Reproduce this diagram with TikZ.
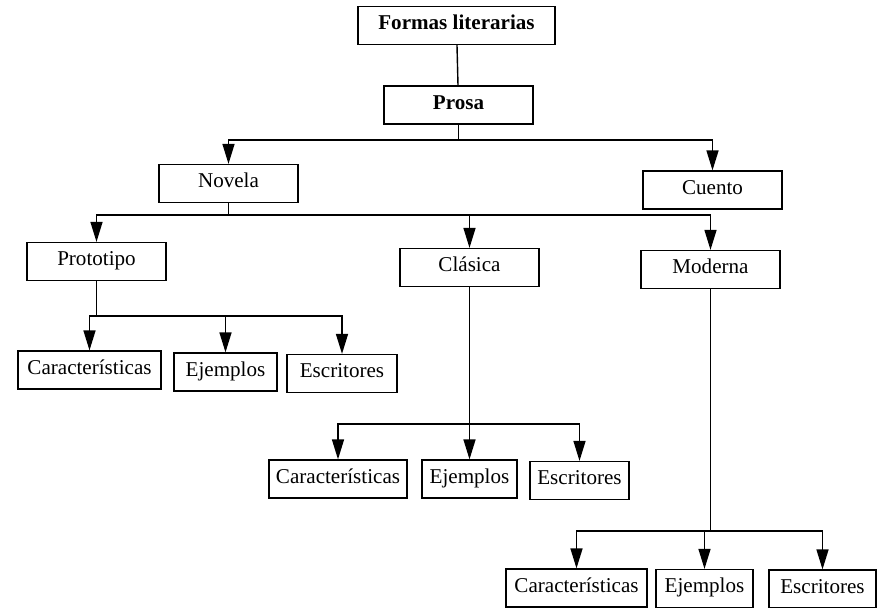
\documentclass[tikz,border=0pt]{standalone}
\usepackage{fontspec}
\setmainfont{Liberation Serif}
\usetikzlibrary{arrows.meta,positioning,calc}

\begin{document}
\begin{tikzpicture}[
  x=0.02cm, y=-0.02cm, font=\fontsize{12}{14}\selectfont,
  topbox/.style={draw, line width=0.7pt, minimum height=7.6mm, inner sep=2pt,
                 text height=1.6ex, text depth=.5ex,
                 font=\fontsize{12}{14}\selectfont\bfseries},
  catbox/.style={draw, line width=0.7pt, minimum height=7.6mm,
                 minimum width=27.8mm, inner sep=2pt,
                 text height=1.6ex, text depth=.5ex},
  leafbox/.style={draw, line width=0.7pt, minimum height=7.6mm, inner sep=2pt,
                  text height=1.6ex, text depth=.5ex},
  link/.style={line width=0.8pt},
  flow/.style={link, -{Triangle[length=4mm, width=2.4mm]}},
]
\useasboundingbox (0,0) rectangle (886,608);

% upper levels
\node[topbox, minimum width=39.4mm] (formas) at (456.5,25.5) {Formas literarias};
\node[topbox, minimum width=29.8mm] (prosa) at (458.5,105) {Prosa};
\node[catbox] (novela)    at (228.5,183.5) {Novela};
\node[catbox] (cuento)    at (712.5,190)   {Cuento};
\node[catbox] (prototipo) at (96.5,261.5)  {Prototipo};
\node[catbox] (clasica)   at (469.5,267.5) {Clásica};
\node[catbox] (moderna)   at (710.5,269.5) {Moderna};

% leaves
\node[leafbox, minimum width=28.6mm] (protocar) at (89.5,370)   {Características};
\node[leafbox, minimum width=20.6mm] (protoeje) at (225.5,372)  {Ejemplos};
\node[leafbox, minimum width=22mm]   (protoesc) at (342,373.5)  {Escritores};
\node[leafbox, minimum width=27.6mm] (clascar)  at (338,479)    {Características};
\node[leafbox, minimum width=19mm]   (claseje)  at (469.5,479)  {Ejemplos};
\node[leafbox, minimum width=19.8mm] (clasesc)  at (579.5,480.5){Escritores};
\node[leafbox, minimum width=28.2mm] (modcar)   at (576.5,588)  {Características};
\node[leafbox, minimum width=19.4mm] (modeje)   at (704.5,588.5){Ejemplos};
\node[leafbox, minimum width=21.4mm] (modesc)   at (822.5,589)  {Escritores};

\draw[link] (formas) -- (prosa);

% junctions under each parent
\coordinate (prosaj)  at (prosa.south |- 0,140);
\coordinate (novelaj) at (novela.south |- 0,215);
\coordinate (protoj)  at (prototipo.south |- 0,316);
\coordinate (clasj)   at (clasica.south |- 0,424);
\coordinate (modj)    at (moderna.south |- 0,531);

\foreach \p/\j in {prosa/prosaj, novela/novelaj, prototipo/protoj,
                   clasica/clasj, moderna/modj}
  \draw[link] (\p.south) -- (\j);

\foreach \j/\c in {prosaj/novela, prosaj/cuento,
                   novelaj/prototipo, novelaj/clasica, novelaj/moderna,
                   protoj/protocar, protoj/protoeje, protoj/protoesc,
                   clasj/clascar, clasj/claseje, clasj/clasesc,
                   modj/modcar, modj/modeje, modj/modesc}
  \draw[flow] (\j) -| (\c.north);

\end{tikzpicture}
\end{document}
